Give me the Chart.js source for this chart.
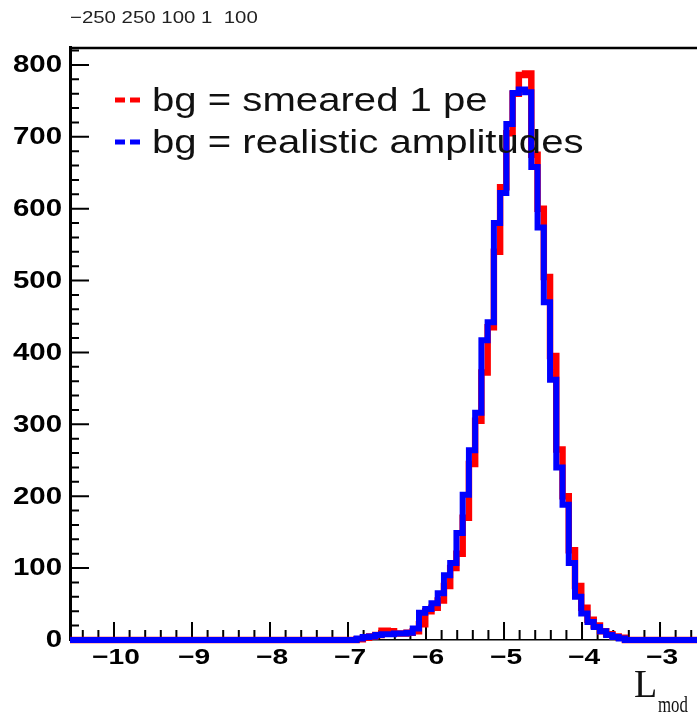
<!DOCTYPE html>
<html>
<head>
<meta charset="utf-8">
<script src="https://cdn.jsdelivr.net/npm/chart.js@4/dist/chart.umd.min.js"></script>
<style>
  body { margin: 0; background: #fff; overflow: hidden; }
  canvas { display: block; }
</style>
</head>
<body>
<canvas id="grafico" width="697" height="714"></canvas>
<script>
// faixa do eixo x e definicao dos bins do histograma
var xMin = -10.564;
var xMax = -2.526;
var yMax = 825;
var binInicio = -6.89;
var binLargura = 0.08;

// contagens por bin (a partir de binInicio)
var contagemSmeared = [1, 3, 5, 7, 13, 12, 9, 9, 10, 12, 22, 40, 45, 55, 75, 100, 120, 170,
  245, 305, 372, 435, 540, 630, 705, 760, 786, 788, 675, 600, 505, 395, 265, 200, 125, 75,
  45, 28, 20, 12, 8, 5, 3];
var contagemRealistic = [2, 4, 5, 7, 8, 8, 9, 9, 10, 16, 38, 43, 51, 65, 90, 107, 149, 202,
  264, 316, 417, 442, 580, 622, 718, 761, 766, 762, 658, 574, 470, 362, 240, 188, 107, 60,
  37, 25, 18, 12, 7, 4, 2];

var legendas = ['bg = smeared 1 pe', 'bg = realistic amplitudes'];
var cores = ['#ff0000', '#0000ff'];
var tituloTopo = '\u2212250 250 100 1  100';

// monta os pontos do degrau: borda esquerda de cada bin
function pontosHistograma(contagem) {
  var pts = [{ x: xMin, y: 0 }];
  for (var i = 0; i < contagem.length; i++) {
    pts.push({ x: binInicio + i * binLargura, y: contagem[i] });
  }
  pts.push({ x: binInicio + contagem.length * binLargura, y: 0 });
  pts.push({ x: xMax, y: 0 });
  return pts;
}

// texto esticado na horizontal (a figura original esta esticada)
function textoEsticado(ctx, txt, x, y, esc) {
  ctx.save();
  ctx.translate(x, y);
  ctx.scale(esc, 1);
  ctx.fillText(txt, 0, 0);
  ctx.restore();
}

var pluginMarcas = {
  id: 'marcas',
  beforeDatasetsDraw: function (chart) {
    var ctx = chart.ctx, a = chart.chartArea;
    var sx = chart.scales.x, sy = chart.scales.y;
    ctx.save();
    ctx.strokeStyle = '#000';
    ctx.lineWidth = 2;
    ctx.beginPath();
    // marcas do eixo x a cada 0.2
    for (var n = Math.ceil(xMin * 5); n <= Math.floor(xMax * 5); n++) {
      var px = sx.getPixelForValue(n / 5);
      var len = (n % 5 === 0) ? 18 : 10;
      ctx.moveTo(px, a.bottom);
      ctx.lineTo(px, a.bottom - len);
    }
    // marcas do eixo y a cada 20
    for (var m = 0; m * 20 <= yMax; m++) {
      var py = sy.getPixelForValue(m * 20);
      var l2 = (m % 5 === 0) ? 19 : 9;
      ctx.moveTo(a.left, py);
      ctx.lineTo(a.left + l2, py);
    }
    ctx.stroke();
    // linha de cima do quadro
    ctx.lineWidth = 2.5;
    ctx.beginPath();
    ctx.moveTo(a.left, a.top + 1);
    ctx.lineTo(a.right, a.top + 1);
    ctx.stroke();
    ctx.restore();
  },
  afterDatasetsDraw: function (chart) {
    var ctx = chart.ctx;
    ctx.save();
    // legenda
    var ys = [100, 142];
    for (var i = 0; i < legendas.length; i++) {
      ctx.strokeStyle = cores[i];
      ctx.lineWidth = 5;
      ctx.setLineDash([10, 5]);
      ctx.beginPath();
      ctx.moveTo(115, ys[i]);
      ctx.lineTo(140, ys[i]);
      ctx.stroke();
      ctx.setLineDash([]);
      ctx.fillStyle = '#111';
      ctx.font = '34px "Liberation Sans", Arial, sans-serif';
      ctx.textAlign = 'left';
      ctx.textBaseline = 'alphabetic';
      textoEsticado(ctx, legendas[i], 152, ys[i] + 11, 1.18);
    }
    ctx.restore();
  },
  afterDraw: function (chart) {
    var ctx = chart.ctx, a = chart.chartArea;
    var sx = chart.scales.x, sy = chart.scales.y;
    ctx.save();
    ctx.fillStyle = '#000';
    // rotulos do eixo y
    ctx.font = 'bold 23px "Liberation Sans", Arial, sans-serif';
    ctx.textAlign = 'right';
    ctx.textBaseline = 'middle';
    sy.ticks.forEach(function (t) {
      textoEsticado(ctx, String(t.value), 62, sy.getPixelForValue(t.value) + 1, 1.28);
    });
    // rotulos do eixo x
    ctx.font = 'bold 22px "Liberation Sans", Arial, sans-serif';
    ctx.textAlign = 'center';
    ctx.textBaseline = 'alphabetic';
    sx.ticks.forEach(function (t) {
      var txt = String(t.value).replace('-', '\u2212');
      textoEsticado(ctx, txt, sx.getPixelForValue(t.value) + 2, 664, 1.28);
    });
    // titulo pequeno no topo
    ctx.fillStyle = '#222';
    ctx.font = '17px "Liberation Sans", Arial, sans-serif';
    ctx.textAlign = 'left';
    textoEsticado(ctx, tituloTopo, 70, 23, 1.2);
    // titulo do eixo x: L_mod
    ctx.fillStyle = '#111';
    ctx.font = '40px "Liberation Serif", "Times New Roman", serif';
    textoEsticado(ctx, 'L', 634, 697, 0.95);
    ctx.font = '24px "Liberation Serif", "Times New Roman", serif';
    textoEsticado(ctx, 'mod', 658, 712, 0.7);
    ctx.restore();
  }
};

var config = {
  type: 'line',
  data: {
    datasets: [{
      label: legendas[0],
      data: pontosHistograma(contagemSmeared),
      borderColor: cores[0],
      borderWidth: 6.5,
      stepped: true,
      pointRadius: 0,
      fill: false,
      clip: 8,
      order: 2
    }, {
      label: legendas[1],
      data: pontosHistograma(contagemRealistic),
      borderColor: cores[1],
      borderWidth: 6,
      stepped: true,
      pointRadius: 0,
      fill: false,
      clip: 8,
      order: 1
    }]
  },
  options: {
    responsive: false,
    animation: false,
    layout: { padding: { top: 47, right: 0, left: 0, bottom: 0 } },
    plugins: { legend: { display: false }, tooltip: { enabled: false } },
    scales: {
      x: {
        type: 'linear',
        min: xMin,
        max: xMax,
        grid: { display: false },
        border: { color: '#000', width: 1.5 },
        ticks: { display: false, stepSize: 1, includeBounds: false, autoSkip: false },
        afterFit: function (s) { s.height = 74; }
      },
      y: {
        min: 0,
        max: yMax,
        grid: { display: false },
        border: { color: '#000', width: 3 },
        ticks: { display: false, stepSize: 100, includeBounds: false },
        afterFit: function (s) { s.width = 70; }
      }
    }
  },
  plugins: [pluginMarcas]
};

var ctxGrafico = document.getElementById('grafico').getContext('2d');
new Chart(ctxGrafico, config);
</script>
</body>
</html>
